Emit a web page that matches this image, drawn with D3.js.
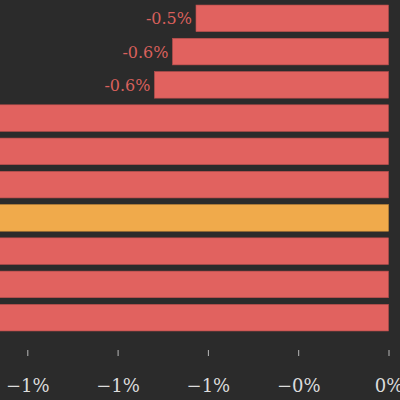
<!DOCTYPE html>
<html>
<head>
<meta charset="utf-8">
<script src="https://cdn.jsdelivr.net/npm/d3@7"></script>
<style>
  html, body { margin: 0; padding: 0; background: #2b2b2b; }
  svg { display: block; }
  .bar-label { font-family: 'DejaVu Serif', serif; font-size: 16px; fill: #d9605c; }
  .axis text { font-family: 'DejaVu Serif', serif; font-size: 18px; fill: #dcdcdc; }
  .axis line { stroke: #b8b8b8; }
</style>
</head>
<body>
<svg width="400" height="400"></svg>
<script>
// bars top to bottom, values in percent
var categories = ['A', 'B', 'C', 'D', 'E', 'F', 'G', 'H', 'I', 'J'];
var values = [-0.533, -0.598, -0.648, -1.2, -1.3, -1.4, -1.55, -1.7, -1.9, -2.2];
var highlight = 'G';

var tickValues = [-1, -0.75, -0.5, -0.25, 0];
var tickLabels = ['\u22121%', '\u22121%', '\u22121%', '\u22120%', '0%'];

var svg = d3.select('svg');

var data = categories.map(function(c, i) { return {name: c, value: values[i]}; });

var x = d3.scaleLinear().domain([-1, 0]).range([27.3, 388.5]);
var y = d3.scaleBand()
    .domain(categories)
    .range([1.7, 334.3])
    .paddingInner(0.2)
    .paddingOuter(0.1);

var bar = svg.selectAll('g.bar')
  .data(data)
  .enter().append('g')
    .attr('class', 'bar');

bar.append('rect')
    .attr('x', function(d) { return x(d.value); })
    .attr('y', function(d) { return y(d.name); })
    .attr('width', function(d) { return x(0) - x(d.value); })
    .attr('height', y.bandwidth())
    .attr('fill', function(d) { return d.name === highlight ? '#f0aa4b' : '#e1625f'; })
    .attr('stroke', function(d) { return d.name === highlight ? '#c98a3a' : '#b84e4c'; })
    .attr('stroke-width', 0.6);

// long bars put their labels left of the view, as in the cropped original
bar.append('text')
    .attr('class', 'bar-label')
    .attr('x', function(d) { return x(d.value) - 4; })
    .attr('y', function(d) { return y(d.name) + y.bandwidth() / 2; })
    .attr('dy', '0.38em')
    .attr('text-anchor', 'end')
    .text(function(d) { return d.value.toFixed(1) + '%'; });

var axis = svg.append('g')
    .attr('class', 'axis')
    .attr('transform', 'translate(0,350)')
    .call(d3.axisBottom(x)
      .tickValues(tickValues)
      .tickFormat(function(d, i) { return tickLabels[i]; })
      .tickSize(6)
      .tickPadding(23));

axis.select('.domain').remove();
</script>
</body>
</html>
